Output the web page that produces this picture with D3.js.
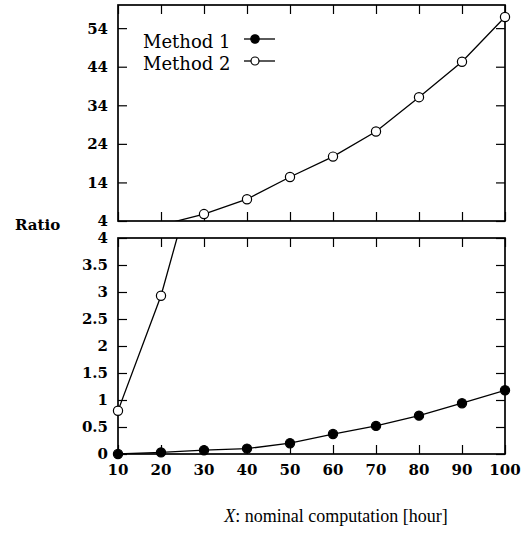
<!DOCTYPE html>
<html><head><meta charset="utf-8">
<script src="https://cdn.jsdelivr.net/npm/d3@7"></script>
<style>body{margin:0;background:#fff}svg{display:block}</style>
</head><body>
<svg id="c" width="522" height="534"></svg>
<script>
const xValues = [10,20,30,40,50,60,70,80,90,100];
const method1 = [0,0.03,0.07,0.1,0.2,0.37,0.52,0.71,0.94,1.18];
const method2 = [0.8,2.93,5.8,9.65,15.4,20.7,27.2,36.1,45.3,56.9];
const seriesNames = ["Method 1","Method 2"];
const topTicks = [4,14,24,34,44,54];
const bottomTicks = [0,0.5,1,1.5,2,2.5,3,3.5,4];
const xTicks = [10,20,30,40,50,60,70,80,90,100];

const svg = d3.select("#c");
const x = d3.scaleLinear().domain([10,100]).range([118,505]);
const panels = [
  {y: d3.scaleLinear().domain([4,60]).range([221,5]), ticks: topTicks, fmt: d3.format("d"), id:"t", xlabels:false},
  {y: d3.scaleLinear().domain([0,4]).range([454,238]), ticks: bottomTicks, fmt: d=>String(d), id:"b", xlabels:true}
];
const fontNum = "'DejaVu Serif', serif";
const fontText = "'Liberation Serif', serif";
const series = [
  {name: seriesNames[0], vals: method1, filled: true},
  {name: seriesNames[1], vals: method2, filled: false}
];
const TL = 9;

panels.forEach(p => {
  const [y1, y0] = p.y.range();
  const g = svg.append("g");
  svg.append("clipPath").attr("id","clip"+p.id).append("rect")
    .attr("x",118).attr("y",y0).attr("width",505-118).attr("height",y1-y0);
  const left = d3.axisRight(p.y).tickValues(p.ticks).tickSize(TL).tickFormat("");
  const right = d3.axisLeft(p.y).tickValues(p.ticks).tickSize(TL).tickFormat("");
  const bottom = d3.axisTop(x).tickValues(xTicks).tickSize(TL).tickFormat("");
  const top = d3.axisBottom(x).tickValues(xTicks).tickSize(TL).tickFormat("");
  [[left,`translate(118,0)`],[right,`translate(505,0)`],[bottom,`translate(0,${y1})`],[top,`translate(0,${y0})`]].forEach(([ax,tr])=>{
    const a = g.append("g").attr("transform",tr).call(ax);
    a.select(".domain").remove();
    a.selectAll("line").attr("stroke","#000").attr("stroke-width",1.2);
  });
  g.append("rect").attr("x",118).attr("y",y0).attr("width",505-118).attr("height",y1-y0)
    .attr("fill","none").attr("stroke","#000").attr("stroke-width",1.7);
  g.selectAll("text.yl").data(p.ticks).join("text").attr("class","yl")
    .attr("x",108).attr("y",d=>p.y(d)).attr("dy","0.36em")
    .attr("text-anchor","end").attr("font-family",fontNum).attr("font-weight","bold")
    .attr("font-size",15).text(p.fmt);
  if (p.xlabels) {
    g.selectAll("text.xl").data(xTicks).join("text").attr("class","xl")
      .attr("x",d=>x(d)).attr("y",y1+21).attr("text-anchor","middle")
      .attr("font-family",fontNum).attr("font-weight","bold").attr("font-size",15).text(d=>d);
  }
  const [dmin,dmax] = p.y.domain();
  series.forEach(s => {
    const data = xValues.map((v,i)=>[v,s.vals[i]]);
    g.append("path").datum(data).attr("clip-path",`url(#clip${p.id})`)
      .attr("fill","none").attr("stroke","#000").attr("stroke-width",1.3)
      .attr("d", d3.line().x(d=>x(d[0])).y(d=>p.y(d[1])));
    g.selectAll(null).data(data.filter(d=>d[1]>=dmin && d[1]<=dmax)).join("circle")
      .attr("cx",d=>x(d[0])).attr("cy",d=>p.y(d[1])).attr("r",4.6)
      .attr("fill",s.filled?"#000":"#fff").attr("stroke","#000").attr("stroke-width",1.2);
  });
});

const lg = svg.append("g");
series.forEach((s,i)=>{
  const by = 48 + i*22;
  lg.append("text").attr("x",143).attr("y",by).attr("font-family",fontNum)
    .attr("font-size",18).text(s.name);
  lg.append("line").attr("x1",244).attr("x2",275).attr("y1",by-9).attr("y2",by-9)
    .attr("stroke","#000").attr("stroke-width",1.3);
  lg.append("circle").attr("cx",255).attr("cy",by-9).attr("r",s.filled?4.2:4)
    .attr("fill",s.filled?"#000":"#fff").attr("stroke","#000").attr("stroke-width",1.2);
});

svg.append("text").attr("x",15).attr("y",230).attr("font-family",fontNum)
  .attr("font-weight","bold").attr("font-size",15).text("Ratio");
const xl = svg.append("text").attr("x",336).attr("y",522).attr("text-anchor","middle")
  .attr("font-family",fontText).attr("font-size",18);
xl.append("tspan").attr("font-style","italic").text("X");
xl.append("tspan").text(": nominal computation [hour]");
</script>
</body></html>
